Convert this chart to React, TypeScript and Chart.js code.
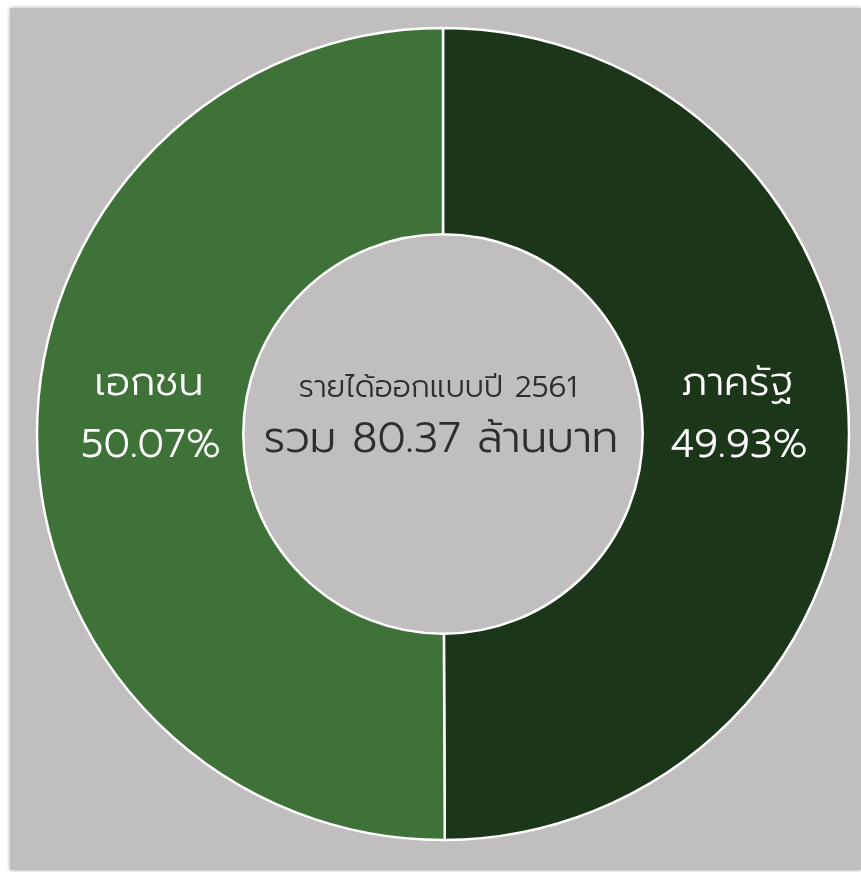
import React, { useEffect, useRef } from "react";
import { Chart, registerables } from "chart.js";

Chart.register(...registerables);

const categories = ["ภาครัฐ", "เอกชน"];
const shares = [49.93, 50.07];
const shareLabels = ["49.93%", "50.07%"];
const colors = ["#1b3618", "#3f7238"];
const centerLines = ["รายได้ออกแบบปี 2561", "รวม 80.37 ล้านบาท"];

const FONT = "Prompt, 'Noto Sans Thai', sans-serif";

const textPlugin = {
  id: "donutText",
  afterDraw(chart: any) {
    const { ctx, chartArea } = chart;
    const cx = (chartArea.left + chartArea.right) / 2;
    const cy = (chartArea.top + chartArea.bottom) / 2;
    ctx.save();
    ctx.textAlign = "center";
    ctx.textBaseline = "alphabetic";
    // center text
    ctx.fillStyle = "#2e2e2e";
    ctx.font = `300 30px ${FONT}`;
    ctx.fillText(centerLines[0], cx - 5, cy - 37);
    ctx.font = `300 42.5px ${FONT}`;
    ctx.fillText(centerLines[1], cx - 2, cy + 18);
    // labels
    ctx.fillStyle = "#ffffff";
    ctx.font = `300 40px ${FONT}`;
    ctx.fillText(categories[0], cx + 294, cy - 39);
    ctx.fillText(categories[1], cx - 294, cy - 39);
    ctx.font = `300 40px ${FONT}`;
    ctx.fillText(shareLabels[0], cx + 296, cy + 23);
    ctx.fillText(shareLabels[1], cx - 292, cy + 23);
    ctx.restore();
  },
};

export default function App() {
  const ref = useRef<HTMLCanvasElement | null>(null);
  useEffect(() => {
    if (!ref.current) return;
    let chart: Chart | null = null;
    let cancelled = false;
    const make = () => {
      if (cancelled || !ref.current) return;
      chart = new Chart(ref.current, {
        type: "doughnut",
        data: {
          labels: categories,
          datasets: [
            {
              data: shares,
              backgroundColor: colors,
              borderColor: "#ffffff",
              borderWidth: 2.5,
            },
          ],
        },
        options: {
          animation: false,
          responsive: true,
          maintainAspectRatio: false,
          radius: 406,
          cutout: 205,
          layout: { padding: { left: 15, bottom: 10 } },
          plugins: {
            legend: { display: false },
            tooltip: { enabled: false },
          },
        },
        plugins: [textPlugin],
      });
    };
    const fontsApi: any = (document as any).fonts;
    if (fontsApi && fontsApi.load) {
      Promise.all([
        fontsApi.load(`300 40px Prompt`, "เอกชน 50.07%"),
        fontsApi.load(`300 30px Prompt`, "รายได้ 2561"),
      ])
        .catch(() => {})
        .then(make);
    } else {
      make();
    }
    return () => {
      cancelled = true;
      if (chart) chart.destroy();
    };
  }, []);
  return (
    <div
      style={{
        position: "fixed",
        left: 10,
        top: 8,
        width: 851,
        height: 862,
        background: "#c0bebf",
        boxShadow: "0 0 4px rgba(0,0,0,0.35)",
      }}
    >
      <canvas ref={ref} />
    </div>
  );
}
